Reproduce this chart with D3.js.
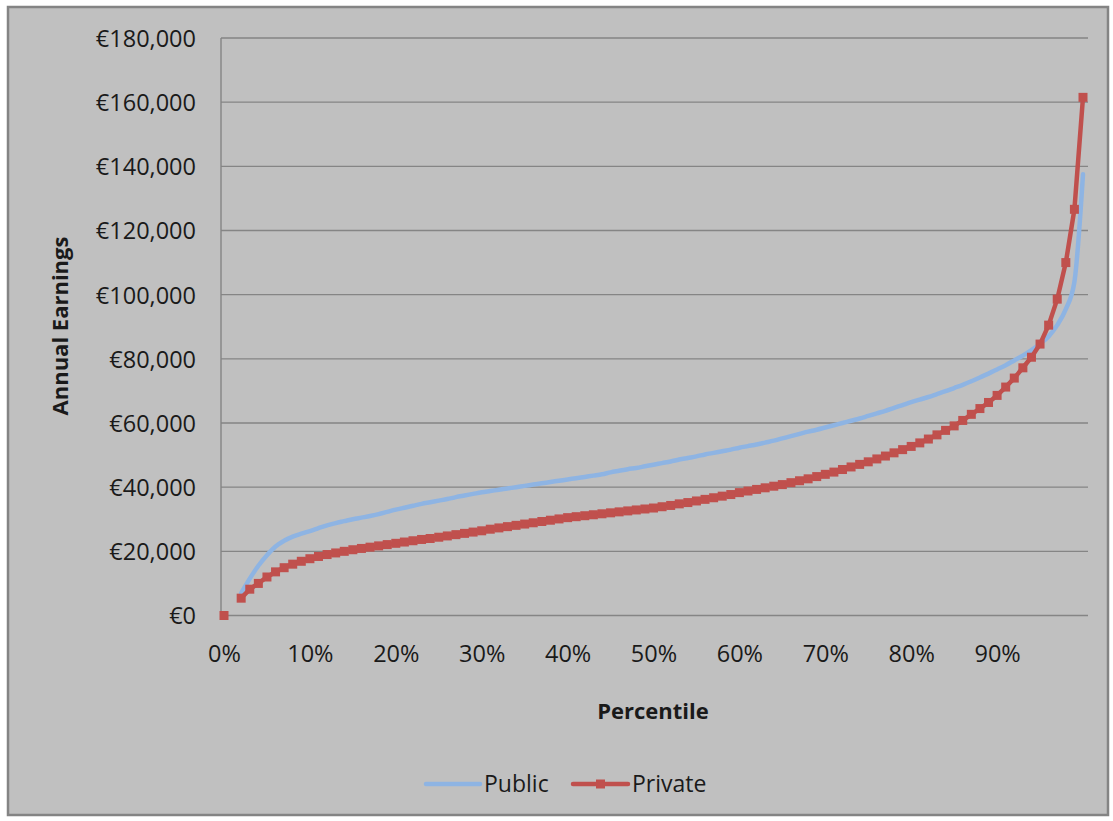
<!DOCTYPE html>
<html>
<head>
<meta charset="utf-8">
<script src="https://cdn.jsdelivr.net/npm/d3@7"></script>
<style>
  html, body { margin: 0; padding: 0; background: #ffffff; }
  svg { display: block; }
  text { font-family: "Open Sans", "Liberation Sans", sans-serif; fill: #1a1a1a; }
</style>
</head>
<body>
<svg id="chart" width="1113" height="821"></svg>
<script>
// Percentile positions 0..100
const percentiles = d3.range(0, 101);

// Annual earnings by percentile (null = no value)
const publicEarnings = [
  null, null, 7000, 11500, 15500, 18800, 21500, 23300, 24600, 25500,
  26300, 27200, 28100, 28800, 29400, 30000, 30500, 31000, 31600, 32300,
  33000, 33600, 34200, 34800, 35300, 35800, 36300, 36900, 37400, 37900,
  38400, 38800, 39200, 39600, 40000, 40400, 40800, 41200, 41600, 42000,
  42400, 42800, 43200, 43600, 44000, 44600, 45100, 45600, 46000, 46500,
  47000, 47500, 48000, 48600, 49100, 49600, 50200, 50700, 51200, 51700,
  52300, 52800, 53300, 53900, 54500, 55200, 55900, 56600, 57300, 57900,
  58600, 59300, 60000, 60700, 61400, 62200, 63000, 63800, 64700, 65600,
  66500, 67300, 68100, 69000, 69900, 70900, 71900, 73000, 74200, 75400,
  76700, 78000, 79500, 81000, 82700, 84700, 87000, 90500, 95500, 104000,
  137500
];

const privateEarnings = [
  0, null, 5400, 8200, 10000, 12000, 13600, 14900, 16000, 16900,
  17700, 18400, 19000, 19500, 20000, 20500, 20900, 21300, 21700, 22100,
  22500, 22900, 23300, 23700, 24000, 24400, 24800, 25200, 25600, 26000,
  26400, 26900, 27300, 27700, 28100, 28500, 28900, 29300, 29700, 30100,
  30500, 30800, 31100, 31400, 31700, 32000, 32300, 32600, 32900, 33200,
  33500, 33900, 34300, 34800, 35200, 35700, 36200, 36700, 37200, 37700,
  38300, 38800, 39300, 39800, 40300, 40800, 41400, 42000, 42600, 43300,
  44000, 44700, 45500, 46300, 47100, 47900, 48800, 49700, 50700, 51700,
  52700, 53800, 55000, 56300, 57700, 59100, 60800, 62700, 64500, 66400,
  68600, 71200, 74000, 77200, 80500, 84600, 90500, 98600, 110000, 126600,
  161500
];

const yTicks = [0, 20000, 40000, 60000, 80000, 100000, 120000, 140000, 160000, 180000];
const xTicks = [0, 10, 20, 30, 40, 50, 60, 70, 80, 90];
const seriesNames = ["Public", "Private"];

const colors = { Public: "#8eb4e3", Private: "#c0504d" };

const svg = d3.select("#chart");

// Chart area frame
svg.append("rect")
  .attr("x", 8).attr("y", 7).attr("width", 1100).attr("height", 808)
  .attr("fill", "#c0c0c0").attr("stroke", "#848484").attr("stroke-width", 2.5);

const plot = { left: 221, right: 1088, top: 38, bottom: 615.5 };

const x = d3.scaleLinear().domain([0, 100]).range([224, 1083]);
const y = d3.scaleLinear().domain([0, 180000]).range([plot.bottom, plot.top]);

// Horizontal gridlines
svg.append("g")
  .selectAll("line")
  .data(yTicks)
  .join("line")
  .attr("x1", plot.left).attr("x2", plot.right)
  .attr("y1", d => y(d)).attr("y2", d => y(d))
  .attr("stroke", "#858585").attr("stroke-width", 1.4);

// Value axis line
svg.append("line")
  .attr("x1", plot.left).attr("x2", plot.left)
  .attr("y1", plot.top).attr("y2", plot.bottom)
  .attr("stroke", "#858585").attr("stroke-width", 1.4);

// Y axis labels
const euro = d => "€" + d3.format(",")(d);
const yAxis = d3.axisLeft(y).tickValues(yTicks).tickFormat(euro).tickSize(0).tickPadding(0);
const gy = svg.append("g").attr("transform", `translate(${196},0)`).call(yAxis);
gy.select(".domain").remove();
gy.selectAll("text")
  .attr("font-size", 23.5)
  .attr("font-family", "Open Sans, Liberation Sans, sans-serif")
  .attr("fill", "#1a1a1a")
  .attr("dy", "0.36em");

// X axis labels
const xAxis = d3.axisBottom(x).tickValues(xTicks).tickFormat(d => d + "%").tickSize(0).tickPadding(0);
const gx = svg.append("g").attr("transform", `translate(0,${645})`).call(xAxis);
gx.select(".domain").remove();
gx.selectAll("text")
  .attr("font-size", 23.5)
  .attr("font-family", "Open Sans, Liberation Sans, sans-serif")
  .attr("fill", "#1a1a1a");

// Axis titles
svg.append("text")
  .attr("transform", "translate(68,326) rotate(-90)")
  .attr("text-anchor", "middle")
  .attr("font-size", 22).attr("font-weight", "bold")
  .text("Annual Earnings");

svg.append("text")
  .attr("x", 653).attr("y", 719)
  .attr("text-anchor", "middle")
  .attr("font-size", 22).attr("font-weight", "bold")
  .text("Percentile");

// Series lines
const pubData = percentiles.map((p, i) => ({ p, v: publicEarnings[i] }));
const privData = percentiles.map((p, i) => ({ p, v: privateEarnings[i] }));

const linePublic = d3.line()
  .defined(d => d.v !== null)
  .x(d => x(d.p)).y(d => y(d.v))
  .curve(d3.curveMonotoneX);

const linePrivate = d3.line()
  .defined(d => d.v !== null)
  .x(d => x(d.p)).y(d => y(d.v));

svg.append("path")
  .datum(pubData)
  .attr("d", linePublic)
  .attr("fill", "none")
  .attr("stroke", colors.Public)
  .attr("stroke-width", 4.5)
  .attr("stroke-linejoin", "round")
  .attr("stroke-linecap", "round");

svg.append("path")
  .datum(privData)
  .attr("d", linePrivate)
  .attr("fill", "none")
  .attr("stroke", colors.Private)
  .attr("stroke-width", 4.5)
  .attr("stroke-linejoin", "round");

// Private markers
const ms = 9;
svg.append("g")
  .selectAll("rect")
  .data(privData.filter(d => d.v !== null))
  .join("rect")
  .attr("x", d => x(d.p) - ms / 2)
  .attr("y", d => y(d.v) - ms / 2)
  .attr("width", ms).attr("height", ms)
  .attr("fill", colors.Private);

// Legend
const legend = svg.append("g");
const legendItems = [
  { name: seriesNames[0], x1: 426, x2: 480, tx: 484, marker: false },
  { name: seriesNames[1], x1: 573, x2: 628, tx: 632, marker: true }
];
legendItems.forEach(it => {
  legend.append("line")
    .attr("x1", it.x1).attr("x2", it.x2)
    .attr("y1", 784).attr("y2", 784)
    .attr("stroke", colors[it.name])
    .attr("stroke-width", 4.5)
    .attr("stroke-linecap", "round");
  if (it.marker) {
    legend.append("rect")
      .attr("x", (it.x1 + it.x2) / 2 - ms / 2).attr("y", 784 - ms / 2)
      .attr("width", ms).attr("height", ms)
      .attr("fill", colors[it.name]);
  }
  legend.append("text")
    .attr("x", it.tx).attr("y", 792)
    .attr("font-size", 23)
    .text(it.name);
});
</script>
</body>
</html>
